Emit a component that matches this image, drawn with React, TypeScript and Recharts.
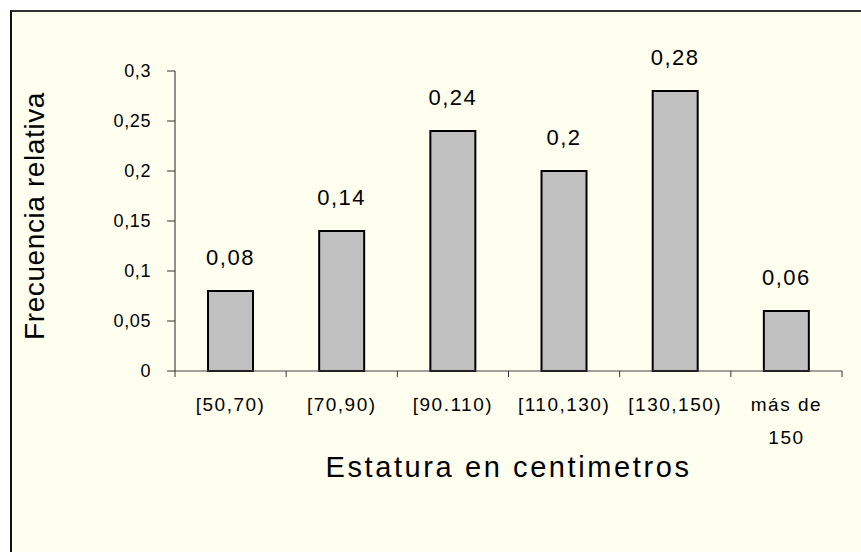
import React from 'react';
import { BarChart, Bar, XAxis, YAxis, LabelList } from 'recharts';

const categories = ['[50,70)', '[70,90)', '[90.110)', '[110,130)', '[130,150)', 'más de\n150'];
const values = [0.08, 0.14, 0.24, 0.2, 0.28, 0.06];
const yTicks = [0, 0.05, 0.1, 0.15, 0.2, 0.25, 0.3];
const xTitle = 'Estatura en centimetros';
const yTitle = 'Frecuencia relativa';

const data = categories.map((c, i) => ({ cat: c, value: values[i] }));

const fmt = (v: number) => String(v).replace('.', ',');
const FONT = 'Arial, "Liberation Sans", sans-serif';
const BG = '#FFFFF0';

const XTick = (props: any) => {
  const { x, y, payload, index, visibleTicksCount } = props;
  const half = payload && payload.offset ? payload.offset : 667 / 12;
  const lines = String(payload.value).split('\n');
  return (
    <g>
      <line x1={x - half} y1={y} x2={x - half} y2={y + 6} stroke="#333" strokeWidth={1} />
      {index === visibleTicksCount - 1 && (
        <line x1={x + half} y1={y} x2={x + half} y2={y + 6} stroke="#333" strokeWidth={1} />
      )}
      {lines.map((l, i) => (
        <text
          key={i}
          x={x}
          y={y + 40 + i * 33}
          textAnchor="middle"
          fontFamily={FONT}
          fontSize={19}
          letterSpacing={1.5}
          fill="#000"
        >
          {l}
        </text>
      ))}
    </g>
  );
};

export default function App() {
  return (
    <div style={{ position: 'fixed', left: 0, top: 0, width: 861, height: 552, background: '#fff', overflow: 'hidden' }}>
      <div
        style={{
          position: 'absolute',
          left: 10,
          top: 10,
          width: 900,
          height: 600,
          background: BG,
          borderTop: '2px solid #333',
          borderLeft: '2px solid #111',
        }}
      />
      <div style={{ position: 'absolute', left: 0, top: 0 }}>
        <BarChart
          width={861}
          height={552}
          data={data}
          margin={{ top: 71, right: 19, bottom: 111, left: 105 }}
          barCategoryGap="29.7%"
        >
          <XAxis
            dataKey="cat"
            height={70}
            interval={0}
            axisLine={{ stroke: '#444', strokeWidth: 1 }}
            tickLine={false}
            tickSize={0}
            tickMargin={0}
            tick={<XTick />}
            label={{
              content: (p: any) => {
                const vb = p.viewBox || { x: 175, y: 371, width: 667 };
                return (
                  <text
                    x={vb.x + vb.width / 2}
                    y={vb.y + 106}
                    textAnchor="middle"
                    fontFamily={FONT}
                    fontSize={29}
                    letterSpacing={2.6}
                    fill="#000"
                  >
                    {xTitle}
                  </text>
                );
              },
            }}
          />
          <YAxis
            width={70}
            domain={[0, 0.3]}
            ticks={yTicks}
            tickFormatter={fmt}
            axisLine={{ stroke: '#222', strokeWidth: 1 }}
            tickLine={{ stroke: '#333', strokeWidth: 1 }}
            tickSize={8}
            tickMargin={16}
            tick={{ fontFamily: FONT, fontSize: 18, fill: '#000', letterSpacing: 0.6 }}
            label={{
              content: (p: any) => {
                const vb = p.viewBox || { x: 105, y: 71, height: 300 };
                const cx = vb.x - 71;
                const cy = vb.y + vb.height / 2 - 5;
                return (
                  <text
                    x={cx}
                    y={cy}
                    transform={`rotate(-90 ${cx} ${cy})`}
                    textAnchor="middle"
                    dominantBaseline="central"
                    fontFamily={FONT}
                    fontSize={28}
                    letterSpacing={0.6}
                    fill="#000"
                  >
                    {yTitle}
                  </text>
                );
              },
            }}
          />
          <Bar dataKey="value" fill="#C0C0C0" stroke="#000" strokeWidth={2} isAnimationActive={false}>
            <LabelList
              dataKey="value"
              position="top"
              offset={26}
              formatter={(v: any) => fmt(Number(v))}
              style={{ fontFamily: FONT, fontSize: 22, fill: '#000', letterSpacing: 1.5 }}
            />
          </Bar>
        </BarChart>
      </div>
    </div>
  );
}
